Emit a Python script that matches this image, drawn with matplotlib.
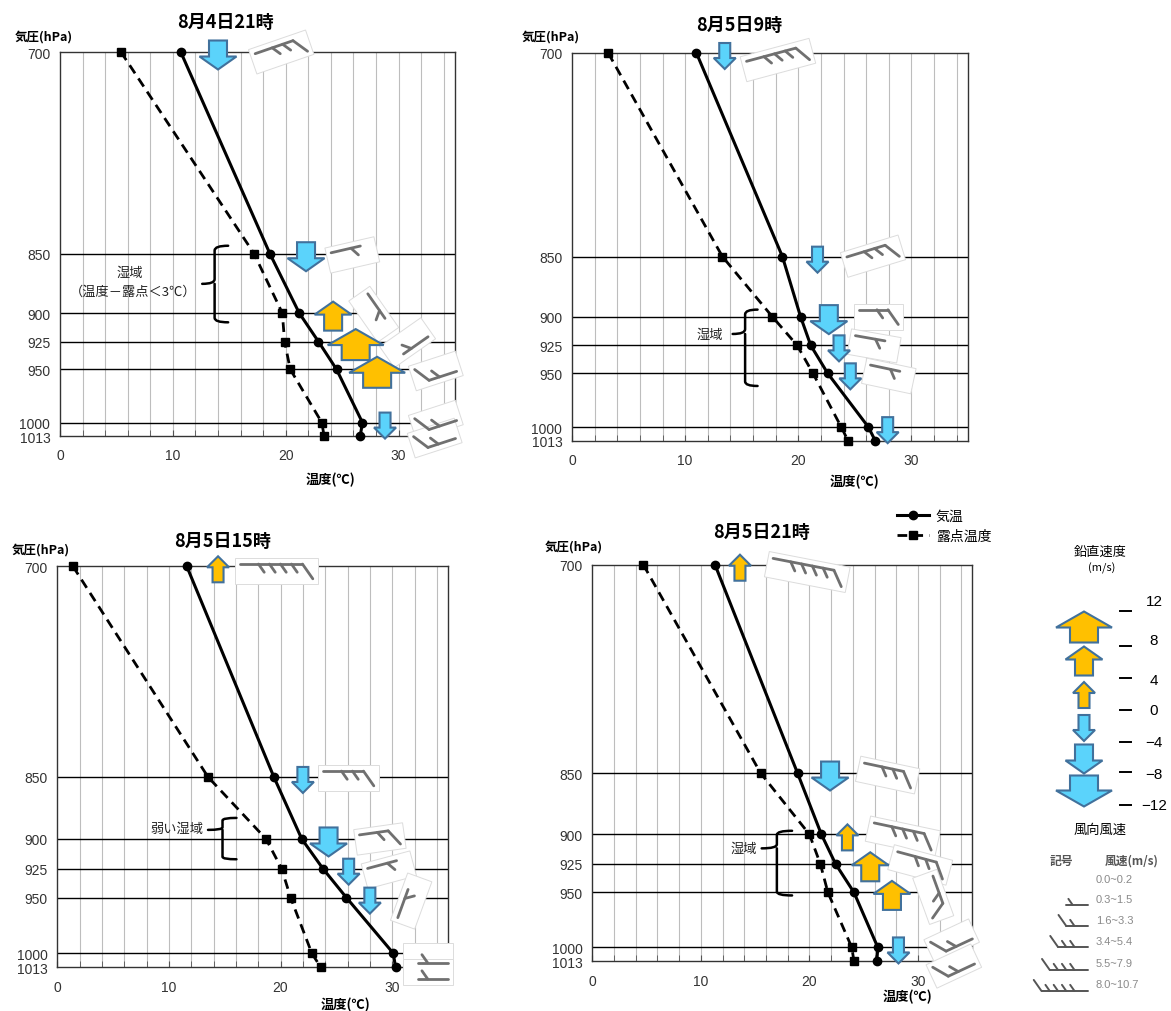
import numpy as np
import matplotlib
matplotlib.use("Agg")
import matplotlib.pyplot as plt
from matplotlib.transforms import Affine2D, ScaledTranslation
from matplotlib.patches import Polygon, Rectangle, PathPatch
from matplotlib.path import Path
from matplotlib.lines import Line2D
from matplotlib.ticker import NullLocator, NullFormatter

plt.rcParams['font.family'] = ['Noto Sans CJK JP', 'DejaVu Sans']

# ---------------- data ----------------
levels = [700, 850, 900, 925, 950, 1000, 1013]
level_labels = ['700', '850', '900', '925', '950', '1000', '1013']
titles = ['8月4日21時', '8月5日9時', '8月5日15時', '8月5日21時']

# air temperature / dew point (degC) at each level
temp_04_21 = [10.7, 18.6, 21.2, 22.9, 24.5, 26.8, 26.6]
dewp_04_21 = [5.4, 17.2, 19.7, 19.9, 20.4, 23.2, 23.4]
temp_05_09 = [11.0, 18.6, 20.2, 21.1, 22.6, 26.2, 26.8]
dewp_05_09 = [3.2, 13.3, 17.7, 19.9, 21.3, 23.8, 24.4]
temp_05_15 = [11.6, 19.4, 21.9, 23.8, 25.9, 30.1, 30.3]
dewp_05_15 = [1.4, 13.5, 18.7, 20.1, 20.9, 22.8, 23.6]
temp_05_21 = [11.3, 18.9, 21.1, 22.4, 24.1, 26.3, 26.2]
dewp_05_21 = [4.7, 15.5, 20.0, 21.0, 21.7, 23.9, 24.1]

# vertical velocity (m/s) at 700..1000 hPa (positive = upward)
vv_levels = [700, 850, 900, 925, 950, 1000]
vvel_04_21 = [-6, -6, 6, 10, 10, -2]
vvel_05_09 = [-2, -2, -6, -2, -2, -2]
vvel_05_15 = [2, -2, -6, -2, -2, np.nan]
vvel_05_21 = [2, -6, 2, 6, 6, -2]

# wind direction (deg, blowing from) and Beaufort class at each level
wdir_04_21 = [71, 77, 145, 235, 252, 252, 252]
wbft_04_21 = [3, 1, 1, 1, 2, 2, 2]
wdir_05_09 = [75, 73, 90, 100, 102, 0, 0]
wbft_05_09 = [4, 3, 2, 1, 1, 0, 0]
wdir_05_15 = [90, 90, 82, 75, 20, 270, 270]
wbft_05_15 = [5, 3, 2, 1, 1, 1, 1]
wdir_05_21 = [101, 102, 102, 105, 160, 245, 245]
wbft_05_21 = [5, 3, 4, 3, 2, 2, 2]

vv_legend_ticks = ['12', '8', '4', '0', '−4', '−8', '−12']
wind_legend_ranges = ['0.0~0.2', '0.3~1.5', '1.6~3.3', '3.4~5.4', '5.5~7.9', '8.0~10.7']

# ---------------- layout ----------------
W_PX, H_PX = 1171, 1012
fig = plt.figure(figsize=(W_PX / 100, H_PX / 100), dpi=100)
fig.patch.set_facecolor('white')

def fx(x):
    return x / W_PX

def fy(y):
    return 1 - y / H_PX

axes_px = [(60, 53, 455, 437), (572, 54, 968, 441.7),
           (57.3, 567.3, 448, 968.3), (592.3, 565.7, 972.3, 962.3)]
title_px = [(225, 22), (739, 25), (223, 541), (762, 532)]
plabel_px = [(44, 37), (551, 37), (41, 550), (574, 547)]
tlabel_px = [(330, 480), (854, 482), (345, 1005), (907, 997)]

# x positions (degC) of the vertical-velocity arrows
arrow_x = [[14.0, 21.8, 24.2, 26.2, 28.1, 28.8],
           [13.5, 21.7, 22.7, 23.6, 24.6, 27.9],
           [14.4, 22.0, 24.3, 26.1, 28.0, np.nan],
           [13.6, 21.9, 23.5, 25.6, 27.6, 28.2]]
# box centres of the wind symbols (degC, hPa)
barb_pos = [[(19.6, 700), (25.9, 851), (27.8, 901), (30.8, 926), (33.3, 951.5), (33.3, 997.6), (33.2, 1015)],
            [(18.2, 704.7), (26.6, 849.6), (27.1, 900), (26.7, 925.5), (28.0, 952.4), None, None],
            [(19.65, 703), (26.1, 850.8), (28.9, 900), (29.7, 926), (31.7, 953), (33.2, 1002.5), (33.2, 1017.5)],
            [(19.8, 704.8), (27.2, 851.6), (28.6, 901.4), (30.2, 926), (31.4, 954), (33.1, 994), (33.3, 1017.5)]]
# humid-layer braces: x spine, x serif end, x nub end, p top, p bottom, p middle
braces = [(13.7, 14.9, 12.6, 843.5, 908, 875),
          (15.3, 16.4, 14.2, 894, 961.5, 915),
          (14.8, 16.05, 13.5, 882.7, 917, 892.5),
          (17.0, 18.4, 15.6, 897, 952.7, 911.8)]
brace_text = [[('湿域', 130, 273), ('（温度－露点＜3℃）', 133, 292)],
              [('湿域', 710, 335)],
              [('弱い湿域', 177, 829)],
              [('湿域', 744, 849)]]

temps = [temp_04_21, temp_05_09, temp_05_15, temp_05_21]
dewps = [dewp_04_21, dewp_05_09, dewp_05_15, dewp_05_21]
vvels = [vvel_04_21, vvel_05_09, vvel_05_15, vvel_05_21]
wdirs = [wdir_04_21, wdir_05_09, wdir_05_15, wdir_05_21]
wbfts = [wbft_04_21, wbft_05_09, wbft_05_15, wbft_05_21]

UP_FC, DOWN_FC, ARROW_EC = '#FFC000', '#5BD3FB', '#41719C'
BARB_C = '#707070'
DASH = (0, (3.5, 2.2))


def arrow_shape(w):
    """Block arrow polygon (pixels) sized by |w| class."""
    a = abs(w)
    if a < 4:
        W, H, hh, sw = 22, 26, 11, 11
    elif a < 8:
        W, H, hh, sw = 37, 29, 13, 18
    else:
        W, H, hh, sw = 56, 31, 16, 28
    pts = np.array([(-sw / 2, -H / 2), (sw / 2, -H / 2), (sw / 2, H / 2 - hh),
                    (W / 2, H / 2 - hh), (0, H / 2), (-W / 2, H / 2 - hh),
                    (-sw / 2, H / 2 - hh)])
    if w < 0:
        pts[:, 1] *= -1
    return pts


def barb_segments(n, scale=1.0):
    """Staff with n feathers (Beaufort class), feathered end at +x."""
    L = (30 if n == 1 else 18 + 11 * (n - 1)) * scale
    s = 11 * scale
    fe, fi = 18 * scale, 10 * scale
    c, sn = np.cos(np.radians(55)), np.sin(np.radians(55))
    segs = [[(0, 0), (L, 0)]]
    if n == 1:
        x0 = 0.68 * L
        segs.append([(x0, 0), (x0 + fi * c, -fi * sn)])
    else:
        segs.append([(L, 0), (L + fe * c, -fe * sn)])
        for k in range(1, n):
            xk = L - k * s
            segs.append([(xk, 0), (xk + fi * c, -fi * sn)])
    box = (-5 * scale, -fe * sn - 5 * scale, L + fe * c + 10 * scale, fe * sn + 11 * scale)
    return segs, box


def draw_barb(container, n, direction, anchor_trans, boxed=True, scale=1.0,
              color=BARB_C, lw=2.0, center=True):
    theta = 90 - direction
    segs, (bx, by, bw, bh) = barb_segments(n, scale)
    if center:
        local = Affine2D().translate(-(bx + bw / 2), -(by + bh / 2)).rotate_deg(theta)
    else:
        local = Affine2D().rotate_deg(theta)
    trans = local + anchor_trans
    if boxed:
        rect = Rectangle((bx, by), bw, bh, fc='white', ec='#dcdcdc', lw=0.7,
                         transform=trans, zorder=5, clip_on=False)
        container.add_artist(rect)
    for seg in segs:
        xs, ys = zip(*seg)
        ln = Line2D(xs, ys, color=color, lw=lw, transform=trans, zorder=6,
                    solid_capstyle='round', clip_on=False)
        container.add_artist(ln)


def brace_path(xs, xe, xn, pt, pb, pm):
    """Curly brace opening to the right, with its nub pointing left."""
    dx = xe - xs
    q = 0.06 * (pb - pt)
    verts = [(xe, pt), (xs, pt), (xs, pt + q),
             (xs, pm - q), (xs, pm), (xn, pm),
             (xs, pm), (xs, pm + q),
             (xs, pb - q), (xs, pb), (xe, pb)]
    codes = [Path.MOVETO, Path.CURVE3, Path.CURVE3,
             Path.LINETO, Path.CURVE3, Path.CURVE3,
             Path.MOVETO, Path.CURVE3,
             Path.LINETO, Path.CURVE3, Path.CURVE3]
    # the second half restarts at the nub joint
    verts[6] = (xs, pm)
    codes[6] = Path.MOVETO
    verts[7] = (xs, pm + q)
    codes[7] = Path.LINETO
    return Path(verts, codes)


for i in range(4):
    l, t, r, b = axes_px[i]
    ax = fig.add_axes([fx(l), fy(b), (r - l) / W_PX, (b - t) / H_PX])
    ax.set_yscale('log')
    ax.set_xlim(0, 35)
    ax.set_ylim(1013, 700)
    ax.set_yticks(levels, labels=level_labels)
    ax.yaxis.set_minor_locator(NullLocator())
    ax.yaxis.set_minor_formatter(NullFormatter())
    ax.set_xticks([0, 10, 20, 30])
    ax.set_xticks(np.arange(0, 36, 2), minor=True)
    ax.tick_params(axis='y', length=0, pad=7, labelsize=10, labelcolor='#333333')
    ax.tick_params(axis='x', which='both', direction='in', length=4,
                   color='#555555', pad=9, labelsize=10, labelcolor='#333333')
    for lab in ax.get_xticklabels() + ax.get_yticklabels():
        lab.set_family('Liberation Sans')
    for x in np.arange(2, 35, 2):
        ax.axvline(x, color='#bdbdbd', lw=0.8, zorder=0)
    for p in levels[1:-1]:
        ax.axhline(p, color='black', lw=1.0, zorder=1)
    for sp in ax.spines.values():
        sp.set_color('#333333')
        sp.set_linewidth(1.0)

    ax.plot(temps[i], levels, color='black', lw=2.2, marker='o', ms=6,
            zorder=7, clip_on=False)
    ax.plot(dewps[i], levels, color='black', lw=2.0, ls=DASH,
            marker='s', ms=6, zorder=7, clip_on=False)

    # vertical velocity arrows
    for w, x, p in zip(vvels[i], arrow_x[i], vv_levels):
        if np.isnan(w):
            continue
        tr = Affine2D().translate(0, -3) + ScaledTranslation(x, p, ax.transData)
        poly = Polygon(arrow_shape(w), closed=True, fc=UP_FC if w > 0 else DOWN_FC,
                       ec=ARROW_EC, lw=1.5, transform=tr, zorder=8, clip_on=False)
        ax.add_artist(poly)

    # wind symbols
    for n, d, pos in zip(wbfts[i], wdirs[i], barb_pos[i]):
        if n == 0 or pos is None:
            continue
        draw_barb(ax, n, d, ScaledTranslation(pos[0], pos[1], ax.transData))

    # humid layer brace
    ax.add_artist(PathPatch(brace_path(*braces[i]), fc='none', ec='black', lw=1.8,
                            transform=ax.transData, zorder=4, clip_on=False,
                            capstyle='round', joinstyle='round'))
    for txt, tx, ty in brace_text[i]:
        fig.text(fx(tx), fy(ty), txt, ha='center', va='center', fontsize=9.5,
                 color='#222222')

    fig.text(fx(title_px[i][0]), fy(title_px[i][1]), titles[i], ha='center',
             va='center', fontsize=13, fontweight='bold')
    fig.text(fx(plabel_px[i][0]), fy(plabel_px[i][1]), '気圧(hPa)', ha='center',
             va='center', fontsize=9, fontweight='bold')
    fig.text(fx(tlabel_px[i][0]), fy(tlabel_px[i][1]), '温度(℃)', ha='center',
             va='center', fontsize=9.5, fontweight='bold')

# line legend
handles = [Line2D([], [], color='black', lw=2.2, marker='o', ms=6),
           Line2D([], [], color='black', lw=2.0, ls=DASH, marker='s', ms=6)]
fig.legend(handles, ['気温', '露点温度'], loc='upper left',
           bbox_to_anchor=(fx(890), fy(503)), frameon=False, fontsize=10,
           handlelength=2.3, handletextpad=0.5, labelspacing=0.45, borderpad=0)

# vertical velocity legend
fig.text(fx(1100), fy(552), '鉛直速度', ha='center', va='center', fontsize=9.5)
fig.text(fx(1102), fy(568), '(m/s)', ha='center', va='center', fontsize=8)
legend_arrows = [(10, 628), (6, 662), (2, 696), (-2, 729), (-6, 760), (-10, 792)]
for w, y in legend_arrows:
    tr = ScaledTranslation(fx(1084), fy(y), fig.transFigure)
    fig.add_artist(Polygon(arrow_shape(w), closed=True, fc=UP_FC if w > 0 else DOWN_FC,
                           ec=ARROW_EC, lw=1.5, transform=tr))
tick_y = [612, 647, 679, 711, 743, 773, 806]
lab_y = [602, 641, 681, 711, 743, 775, 806]
for lab, ty, ly in zip(vv_legend_ticks, tick_y, lab_y):
    fig.add_artist(Line2D([fx(1120), fx(1131)], [fy(ty), fy(ty)], color='black',
                          lw=1.4, transform=fig.transFigure))
    fig.text(fx(1154), fy(ly), lab, ha='center', va='center', fontsize=11,
             family='Liberation Sans')

# wind symbol legend
fig.text(fx(1100), fy(830), '風向風速', ha='center', va='center', fontsize=9.5)
fig.text(fx(1061), fy(861), '記号', ha='center', va='center', fontsize=8.5,
         fontweight='bold', color='#555555')
fig.text(fx(1132), fy(861), '風速(m/s)', ha='center', va='center', fontsize=8.5,
         fontweight='bold', color='#555555')
row_y = [880, 900, 921, 942, 964, 985]
staff_y = [None, 906, 927, 948, 971, 992]
for k, (rng, ry) in enumerate(zip(wind_legend_ranges, row_y)):
    fig.text(fx(1096), fy(ry), rng, ha='left', va='center', fontsize=8,
             color='#8a8a8a', family='Liberation Sans')
    if k > 0:
        draw_barb(fig, k, 270, ScaledTranslation(fx(1088), fy(staff_y[k]), fig.transFigure),
                  boxed=False, scale=0.75, color='#555555', lw=1.4, center=False)

fig.savefig('out.png', dpi=100, facecolor='white')
